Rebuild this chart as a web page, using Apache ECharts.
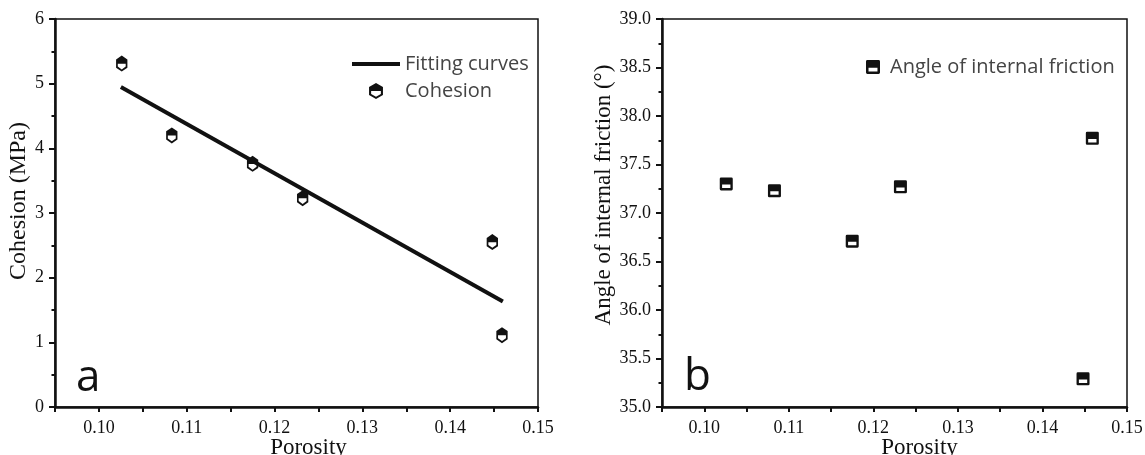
<!DOCTYPE html>
<html>
<head>
<meta charset="utf-8">
<script src="https://cdn.jsdelivr.net/npm/echarts@6/dist/echarts.min.js"></script>
<style>
  html, body { margin: 0; background: #fff; }
  #chart { width: 1145px; height: 455px; }
</style>
</head>
<body>
<div id="chart"></div>
<script>
// values
const porosity = [0.1026, 0.1083, 0.1175, 0.1232, 0.1448, 0.1459];
const cohesion = [5.31, 4.2, 3.76, 3.23, 2.55, 1.11];
const friction = [37.3, 37.23, 36.71, 37.27, 35.29, 37.77];
const fitX = [0.1025, 0.146];
const fitY = [4.95, 1.63];

// half filled markers (outer shape with a hole in the lower half)
const HEX = 'path://M50,0 L100,28 L100,87 L50,115 L0,87 L0,28 Z M15,58 L15,79 L50,99 L85,79 L85,58 Z';
const SQR = 'path://M10,0 L90,0 Q100,0 100,10 L100,90 Q100,100 90,100 L10,100 Q0,100 0,90 L0,10 Q0,0 10,0 Z M18,55 L18,82 L82,82 L82,55 Z';
// plain bar for the line legend (empty subpaths only set the 3:1 box)
const BAR = 'path://M0,0 L0,0 Z M300,100 L300,100 Z M0,37 L300,37 L300,63 L0,63 Z';

const ink = '#111';
const serif = 'Liberation Serif';
const sans = 'Open Sans';

function xAxis(gridIndex, shift) {
  return {
    type: 'value',
    gridIndex,
    min: 0.095,
    max: 0.15,
    interval: 0.005,
    name: 'Porosity',
    nameLocation: 'middle',
    nameGap: 29,
    nameMoveOverlap: false,
    nameTextStyle: { fontFamily: serif, fontSize: 23, color: ink, padding: [0, 0, 0, shift] },
    axisLine: { onZero: false, lineStyle: { color: ink, width: 2.5 } },
    axisTick: { inside: false, length: 5, lineStyle: { color: ink, width: 2 } },
    axisLabel: {
      margin: 12,
      fontFamily: serif,
      fontSize: 18,
      color: ink,
      formatter: v => (Math.round(v * 200) % 2 === 0 ? v.toFixed(2) : '')
    },
    splitLine: { show: false }
  };
}

function yAxis(gridIndex, min, max, interval, name, gap, size, shift, fmt) {
  return {
    type: 'value',
    gridIndex,
    min,
    max,
    interval,
    name,
    nameLocation: 'middle',
    nameGap: gap,
    nameTextStyle: { fontFamily: serif, fontSize: size, color: ink, padding: [0, 0, 0, shift] },
    axisLine: { onZero: false, lineStyle: { color: ink, width: 2.5 } },
    axisTick: { inside: false, length: 6, lineStyle: { color: ink, width: 2 } },
    minorTick: { show: true, splitNumber: 2, length: 3.5, lineStyle: { color: ink, width: 2 } },
    axisLabel: { margin: 11, fontFamily: serif, fontSize: 18, color: ink, formatter: fmt },
    splitLine: { show: false }
  };
}

const option = {
  backgroundColor: '#fff',
  animation: false,
  grid: [
    { left: 55, right: 607, top: 19, bottom: 48, outerBoundsMode: 'none', show: true, borderColor: ink, borderWidth: 1.5 },
    { left: 662, right: 18, top: 19, bottom: 48, outerBoundsMode: 'none', show: true, borderColor: ink, borderWidth: 1.5 }
  ],
  xAxis: [xAxis(0, 24), xAxis(1, 50)],
  yAxis: [
    yAxis(0, 0, 6, 1, 'Cohesion (MPa)', 22, 24, 24, v => String(v)),
    yAxis(1, 35, 39, 0.5, 'Angle of internal friction (°)', 47, 23, 36, v => v.toFixed(1))
  ],
  legend: [
    {
      data: [{ name: 'Fitting curves', icon: BAR }, 'Cohesion'],
      orient: 'vertical',
      left: 347,
      top: 49,
      itemWidth: 48,
      itemHeight: 16,
      itemGap: 7,
      textStyle: { fontFamily: sans, fontSize: 20, color: '#444' }
    },
    {
      data: ['Angle of internal friction'],
      left: 861,
      top: 52,
      itemWidth: 24,
      itemHeight: 14,
      textStyle: { fontFamily: sans, fontSize: 20, color: '#444' }
    }
  ],
  graphic: [
    { type: 'text', left: 76, top: 356, style: { text: 'a', fontFamily: sans, fontSize: 44, fill: ink } },
    { type: 'text', left: 684, top: 355, style: { text: 'b', fontFamily: sans, fontSize: 44, fill: ink } }
  ],
  series: [
    {
      name: 'Fitting curves',
      type: 'line',
      xAxisIndex: 0,
      yAxisIndex: 0,
      symbol: 'none',
      lineStyle: { color: ink, width: 4 },
      itemStyle: { color: ink },
      data: fitX.map((x, i) => [x, fitY[i]]),
      z: 2
    },
    {
      name: 'Cohesion',
      type: 'scatter',
      xAxisIndex: 0,
      yAxisIndex: 0,
      symbol: HEX,
      symbolSize: [13, 16],
      symbolKeepAspect: true,
      itemStyle: { color: ink, opacity: 1 },
      data: porosity.map((x, i) => [x, cohesion[i]]),
      z: 3
    },
    {
      name: 'Angle of internal friction',
      type: 'scatter',
      xAxisIndex: 1,
      yAxisIndex: 1,
      symbol: SQR,
      symbolSize: [13, 13],
      symbolKeepAspect: true,
      itemStyle: { color: ink, opacity: 1 },
      data: porosity.map((x, i) => [x, friction[i]]),
      z: 3
    }
  ]
};

const chart = echarts.init(document.getElementById('chart'));
chart.setOption(option);
</script>
</body>
</html>
